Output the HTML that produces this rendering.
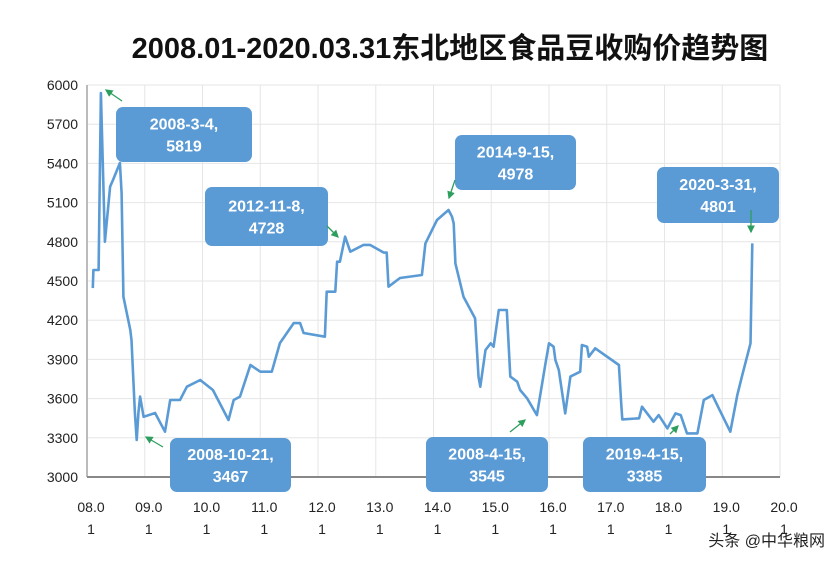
<!DOCTYPE html>
<html><head><meta charset="utf-8">
<style>
body{margin:0;background:#fff;}
svg{display:block;font-family:"Liberation Sans","Noto Sans CJK SC",sans-serif;}
.box{fill:#5b9bd5;}
.bt{fill:#fff;font-family:"Liberation Sans Narrow","Liberation Sans",sans-serif;font-weight:bold;font-size:16px;text-anchor:middle;}
</style></head><body>
<svg id="c" width="840" height="563" viewBox="0 0 840 563">
<text x="450" y="58" font-size="29" font-weight="bold" text-anchor="middle" fill="#111">2008.01-2020.03.31东北地区食品豆收购价趋势图</text>
<g id="grid"></g><g id="axes"></g>
<path id="line" fill="none" stroke="#5b9bd5" stroke-width="2.6" stroke-linejoin="round"></path>
<g id="ann"></g>
<text x="825" y="546" font-size="16" text-anchor="end" fill="#222">头条 @中华粮网</text>
</svg>
<script>
const yTicks=[3000,3300,3600,3900,4200,4500,4800,5100,5400,5700,6000];
const xTickLabels=["08.0","09.0","10.0","11.0","12.0","13.0","14.0","15.0","16.0","17.0","18.0","19.0","20.0"];
const dates=[2008.10,2008.11,2008.20,2008.24,2008.31,2008.40,2008.45,2008.57,2008.60,2008.63,2008.75,2008.77,2008.83,2008.86,2008.89,2008.92,2008.98,2009.18,2009.35,2009.44,2009.61,2009.73,2009.96,2010.18,2010.45,2010.54,2010.65,2010.83,2011.00,2011.20,2011.34,2011.58,2011.69,2011.75,2012.12,2012.15,2012.30,2012.33,2012.38,2012.47,2012.56,2012.79,2012.90,2013.14,2013.19,2013.22,2013.42,2013.80,2013.86,2014.06,2014.26,2014.32,2014.35,2014.38,2014.52,2014.72,2014.78,2014.81,2014.90,2014.99,2015.04,2015.13,2015.27,2015.33,2015.45,2015.50,2015.62,2015.79,2015.94,2016.00,2016.08,2016.11,2016.17,2016.28,2016.37,2016.54,2016.57,2016.66,2016.69,2016.80,2017.21,2017.25,2017.27,2017.56,2017.61,2017.81,2017.90,2018.05,2018.19,2018.28,2018.39,2018.57,2018.68,2018.83,2018.94,2019.14,2019.26,2019.34,2019.49,2019.52];
const prices=[4446,4584,4584,5939,4801,5222,5273,5403,5173,4380,4125,4048,3490,3283,3490,3615,3461,3490,3347,3589,3589,3691,3742,3666,3436,3589,3615,3857,3806,3806,4025,4178,4178,4102,4074,4418,4418,4648,4648,4839,4724,4776,4776,4717,4717,4456,4523,4546,4788,4967,5043,4992,4941,4635,4380,4214,3768,3691,3972,4023,3997,4278,4278,3768,3729,3666,3602,3474,3870,4023,3997,3895,3819,3487,3768,3806,4010,3997,3921,3985,3857,3564,3441,3449,3538,3423,3474,3372,3487,3474,3334,3334,3589,3627,3526,3347,3627,3768,4023,4788];
const annLabels=[["2008-3-4,","5819"],["2012-11-8,","4728"],["2008-10-21,","3467"],["2014-9-15,","4978"],["2008-4-15,","3545"],["2019-4-15,","3385"],["2020-3-31,","4801"]];
const NS="http://www.w3.org/2000/svg";
const X0=87,X1=780,Y0=477,Y1=85;
const x=t=>X0+(t-2008)*(X1-X0)/12;
const y=v=>Y0-(v-3000)*(Y0-Y1)/3000;
function mk(tag,at,par){const e=document.createElementNS(NS,tag);for(const k in at)e.setAttribute(k,at[k]);par.appendChild(e);return e;}
const grid=document.getElementById('grid'),axes=document.getElementById('axes'),svg=document.getElementById('c');
yTicks.forEach(v=>{
 const l=mk('line',{x1:X0,x2:X1,y1:y(v),y2:y(v),stroke:'#e6e6e6','stroke-width':1},grid);
 
 
 const t=mk('text',{x:78,y:y(v)+5,'font-size':14,'text-anchor':'end',fill:'#222'},axes);
 t.textContent=v;
 
 
});
xTickLabels.forEach((s,i)=>{
 const px=x(2008+i);
 if(i>0){const l=mk('line',{x1:px,x2:px,y1:Y1,y2:Y0,stroke:'#e6e6e6','stroke-width':1},grid);
 
 }
 const t=mk('text',{x:px+4,y:512,'font-size':14,'text-anchor':'middle',fill:'#222'},axes);
 t.textContent=s;
 
 
 const t2=mk('text',{x:px+4,y:534,'font-size':14,'text-anchor':'middle',fill:'#222'},axes);
 t2.textContent="1";
 
 
});
const ya=mk('line',{x1:X0,x2:X0,y1:Y1,y2:Y0,stroke:'#bbb','stroke-width':2},axes);


const xa=mk('line',{x1:X0,x2:X1,y1:Y0,y2:Y0,stroke:'#888','stroke-width':2},axes);


document.getElementById('line').setAttribute('d',dates.map((d,i)=>(i?'L':'M')+x(d).toFixed(1)+' '+y(prices[i]).toFixed(1)).join(' '));
const boxes=[[116,107,136,55],[205,187,123,59],[170,438,121,54],[455,135,121,55],[426,437,122,55],[583,437,123,55],[657,167,122,56]];
const arrows=[[122,101,106,90],[327,226,338,237],[163,447,146,437],[455,180,449,198],[510,432,525,420],[670,434,678,426],[751,210,751,232]];
const ann=document.getElementById('ann');
mk('defs',{},ann).innerHTML='<marker id="ah" markerWidth="6" markerHeight="6" refX="5" refY="3" orient="auto"><path d="M0,0 L6,3 L0,6z" fill="#2e9e5e"/></marker>';
boxes.forEach((b,i)=>{
 const g=mk('g',{},ann);
 
 
 mk('rect',{x:b[0],y:b[1],width:b[2],height:b[3],rx:7,class:'box'},g);
 const cx=b[0]+b[2]/2,cy=b[1]+b[3]/2;
 mk('text',{x:cx,y:cy-5,class:'bt'},g).textContent=annLabels[i][0];
 mk('text',{x:cx,y:cy+17,class:'bt'},g).textContent=annLabels[i][1];
 const a=arrows[i];
 mk('line',{x1:a[0],y1:a[1],x2:a[2],y2:a[3],stroke:'#2e9e5e','stroke-width':1.3,'marker-end':'url(#ah)'},g);
});
</script>
</body></html>
